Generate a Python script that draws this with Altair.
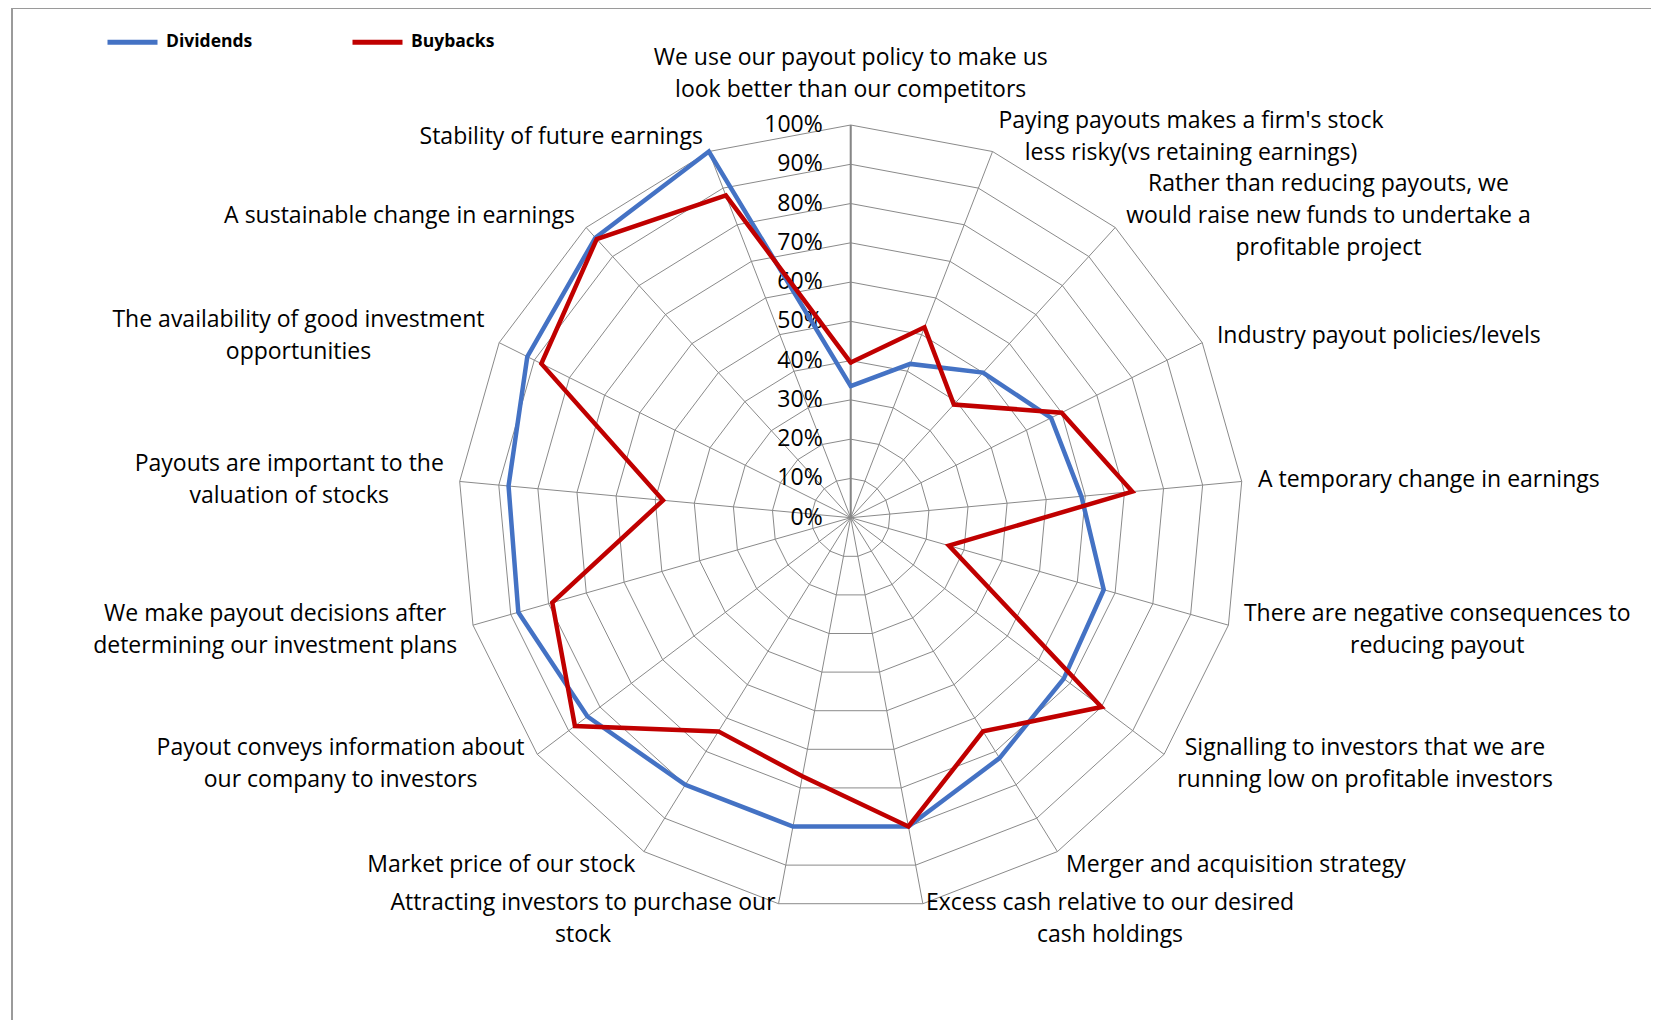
import altair as alt
import pandas as pd

categories = [
    "We use our payout policy to make us\nlook better than our competitors",
    "Paying payouts makes a firm's stock\nless risky(vs retaining earnings)",
    "Rather than reducing payouts, we\nwould raise new funds to undertake a\nprofitable project",
    "Industry payout policies/levels",
    "A temporary change in earnings",
    "There are negative consequences to\nreducing payout",
    "Signalling to investors that we are\nrunning low on profitable investors",
    "Merger and acquisition strategy",
    "Excess cash relative to our desired\ncash holdings",
    "Attracting investors to purchase our\nstock",
    "Market price of our stock",
    "Payout conveys information about\nour company to investors",
    "We make payout decisions after\ndetermining our investment plans",
    "Payouts are important to the\nvaluation of stocks",
    "The availability of good investment\nopportunities",
    "A sustainable change in earnings",
    "Stability of future earnings",
]
series_names = ["Dividends", "Buybacks"]
series_colors = ["#4472C4", "#C00000"]
dividends = [33.5, 42, 50, 57, 59, 67, 68, 72, 80, 80, 80, 84, 88, 87.5, 92, 96.5, 100]
buybacks = [39.5, 52, 39, 60, 72, 26, 80, 64, 80, 67, 64, 88, 79, 48, 88, 96, 88]
tick_levels = [0, 10, 20, 30, 40, 50, 60, 70, 80, 90, 100]
tick_labels = ["0%", "10%", "20%", "30%", "40%", "50%", "60%", "70%", "80%", "90%", "100%"]

FONT = "Open Sans"
FS = 23
LH = 32
N = len(categories)
R_PX = 392.7
CX, CY = 842.7, 509.7
W, H = 1643, 1012
xdom = [-CX / R_PX, (W - CX) / R_PX]
ydom = [-(H - CY) / R_PX, CY / R_PX]

# approximate Open Sans advance widths (em) for centring multi-line labels
_w = {
    "a": .556, "b": .613, "c": .480, "d": .613, "e": .561, "f": .336, "g": .546, "h": .614,
    "i": .258, "j": .258, "k": .529, "l": .258, "m": .932, "n": .614, "o": .600, "p": .613,
    "q": .613, "r": .409, "s": .478, "t": .352, "u": .614, "v": .500, "w": .774, "x": .520,
    "y": .500, "z": .468, " ": .260, "'": .200, "(": .296, ")": .296, "/": .371, ",": .245,
    ".": .266, "A": .633, "B": .647, "C": .631, "D": .730, "E": .556, "F": .519, "G": .728,
    "H": .739, "I": .279, "M": .907, "P": .602, "R": .618, "S": .549, "T": .553, "W": .907,
}


def text_width(s):
    return max(sum(_w.get(ch, .56) for ch in line) for line in s.split("\n")) * FS


rows = []
for name, vals in zip(series_names, [dividends, buybacks]):
    for k in range(N + 1):
        rows.append({"series": name, "k": k, "value": vals[k % N]})
series_df = pd.DataFrame(rows)

ring_df = pd.DataFrame([{"level": lv, "k": k} for lv in tick_levels[1:] for k in range(N + 1)])
spoke_df = pd.DataFrame({"k": list(range(N))})
tick_df = pd.DataFrame({"level": tick_levels, "label": tick_labels})
label_df = pd.DataFrame({
    "k": list(range(N)),
    "label": categories,
    "halfw": [text_width(c) / 2 for c in categories],
    "nlines": [c.count("\n") + 1 for c in categories],
})

xs = alt.Scale(domain=xdom, nice=False, zero=False)
ys = alt.Scale(domain=ydom, nice=False, zero=False)
X = lambda f: alt.X(f, type="quantitative", scale=xs, axis=None)
Y = lambda f: alt.Y(f, type="quantitative", scale=ys, axis=None)
ang = f"2*PI*datum.k/{N}"

rings = alt.Chart(ring_df).mark_line(color="#8a8a8a", strokeWidth=1).transform_calculate(
    x=f"datum.level/100*sin({ang})", y=f"datum.level/100*cos({ang})"
).encode(x=X("x"), y=Y("y"), detail="level:N", order="k:Q")

spokes = alt.Chart(spoke_df).mark_rule(color="#8a8a8a", strokeWidth=1).transform_calculate(
    x0="0", y0="0", x1=f"sin({ang})", y1=f"cos({ang})"
).encode(x=X("x0"), y=Y("y0"), x2="x1:Q", y2="y1:Q")

vaxis = alt.Chart(spoke_df).mark_rule(color="#868686", strokeWidth=2).transform_filter(
    "datum.k == 0"
).transform_calculate(x0="0", y0="0", y1="1").encode(x=X("x0"), y=Y("y0"), y2="y1:Q")

ticks = alt.Chart(tick_df).mark_text(
    align="right", baseline="middle", dx=-28, font=FONT, fontSize=FS, color="black"
).transform_calculate(x="0", y="datum.level/100").encode(x=X("x"), y=Y("y"), text="label:N")

# the first line is placed at y, so shift up by half the extra lines to centre the block
labels = alt.Chart(label_df).mark_text(
    align="center", baseline="middle", font=FONT, fontSize=FS, color="black",
    lineBreak="\n", lineHeight=LH
).transform_calculate(
    s=f"sin({ang})", c=f"cos({ang})"
).transform_calculate(
    x=f"datum.s*(1+16/{R_PX}) + (datum.s > 0.001 ? 1 : (datum.s < -0.001 ? -1 : 0))*datum.halfw/{R_PX}",
    y=(f"datum.c*(1+16/{R_PX}) + (datum.k == 0 ? (3 + datum.nlines*{LH}/2)/{R_PX} : 0)"
       f" + (datum.nlines-1)*{LH}/2/{R_PX}"),
).encode(x=X("x"), y=Y("y"), text="label:N")

color = alt.Color(
    "series:N",
    scale=alt.Scale(domain=series_names, range=series_colors),
    legend=alt.Legend(
        title=None, orient="none", legendX=97, legendY=6.5, direction="horizontal",
        symbolType="stroke", symbolSize=2500, symbolStrokeWidth=5,
        labelFont=FONT, labelFontWeight="bold", labelFontSize=17.5, labelColor="black",
        labelOffset=6, columnPadding=89, padding=0,
    ),
)


def series_layer(name):
    return alt.Chart(series_df).mark_line(strokeWidth=4.5, strokeCap="round").transform_filter(
        f"datum.series == '{name}'"
    ).transform_calculate(
        x=f"datum.value/100*sin({ang})", y=f"datum.value/100*cos({ang})"
    ).encode(x=X("x"), y=Y("y"), color=color, order="k:Q")


border_top = alt.Chart(tick_df).mark_rule(color="#9a9a9a", strokeWidth=1).encode(
    x=alt.value(4), x2=alt.value(W), y=alt.value(0.5)
)
border_left = alt.Chart(tick_df).mark_rule(color="#9a9a9a", strokeWidth=1).encode(
    x=alt.value(4), y=alt.value(0.5), y2=alt.value(H)
)

chart = alt.layer(
    border_top, border_left, rings, spokes, vaxis, ticks, labels,
    series_layer("Dividends"), series_layer("Buybacks"),
).properties(
    width=W, height=H, padding=0, autosize=alt.AutoSizeParams(type="none"),
    background="white",
).configure_view(stroke=None)

chart.save("out.html", embed_options={"renderer": "svg", "actions": False})
